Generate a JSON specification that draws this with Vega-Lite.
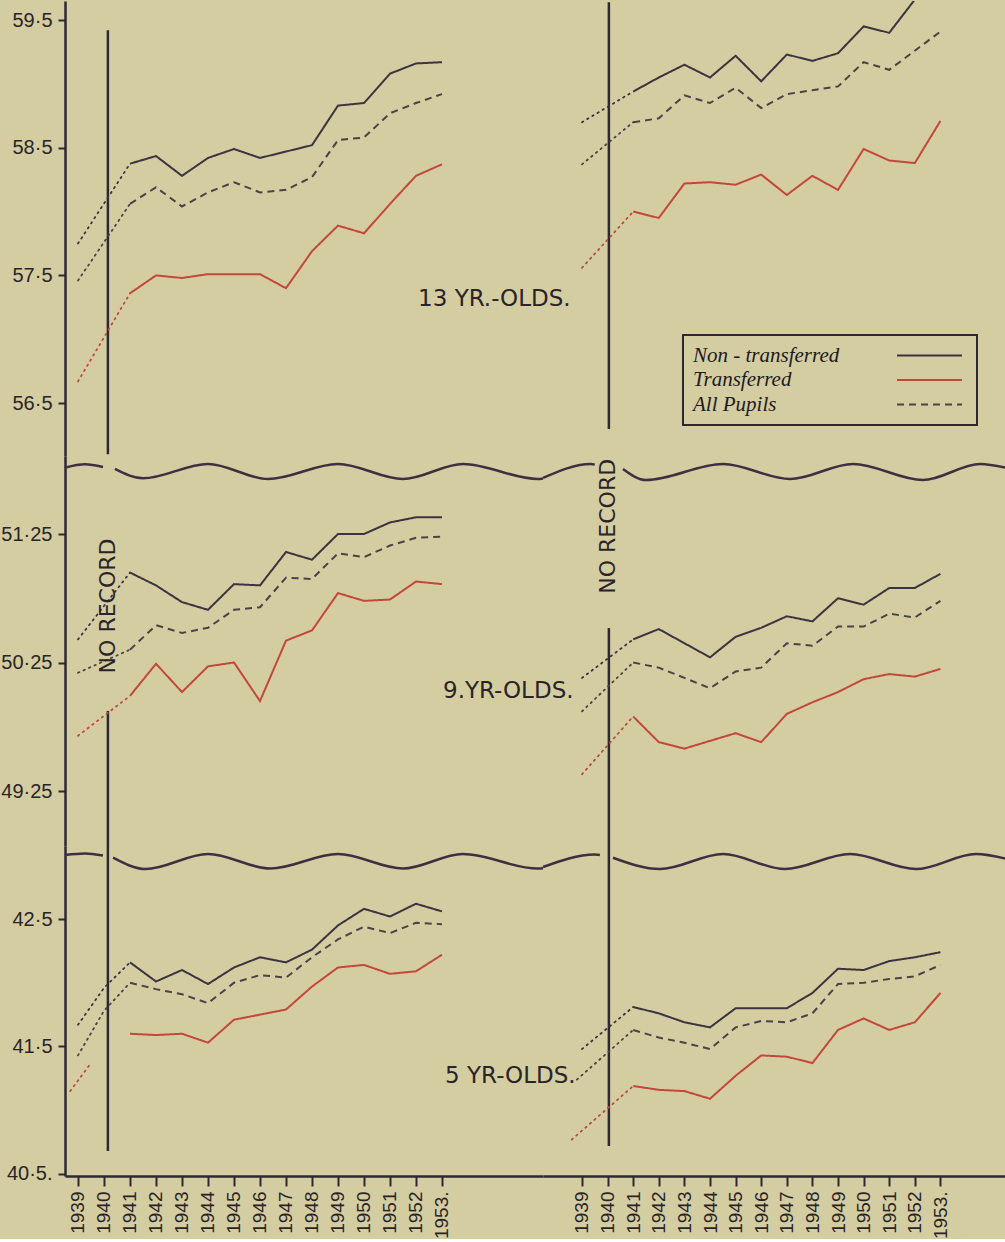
{
  "$schema": "https://vega.github.io/schema/vega-lite/v6.json",
  "background": "#d4cda2",
  "padding": 0,
  "autosize": {"type": "pad"},
  "bounds": "flush",
  "columns": 2,
  "spacing": 0,
  "resolve": {"scale": {"color": "shared", "strokeDash": "shared"}},
  "datasets": {
    "L13": [
      {"series":"Non - transferred","kind":"main","year":1941,"value":58.375},
      {"series":"Non - transferred","kind":"main","year":1942,"value":58.435},
      {"series":"Non - transferred","kind":"main","year":1943,"value":58.28},
      {"series":"Non - transferred","kind":"main","year":1944,"value":58.42},
      {"series":"Non - transferred","kind":"main","year":1945,"value":58.49},
      {"series":"Non - transferred","kind":"main","year":1946,"value":58.42},
      {"series":"Non - transferred","kind":"main","year":1947,"value":58.47},
      {"series":"Non - transferred","kind":"main","year":1948,"value":58.52},
      {"series":"Non - transferred","kind":"main","year":1949,"value":58.83},
      {"series":"Non - transferred","kind":"main","year":1950,"value":58.85},
      {"series":"Non - transferred","kind":"main","year":1951,"value":59.08},
      {"series":"Non - transferred","kind":"main","year":1952,"value":59.16},
      {"series":"Non - transferred","kind":"main","year":1953,"value":59.17},
      {"series":"Non - transferred","kind":"ext","year":1939,"value":57.75},
      {"series":"Non - transferred","kind":"ext","year":1941,"value":58.375},
      {"series":"All Pupils","kind":"main","year":1941,"value":58.06},
      {"series":"All Pupils","kind":"main","year":1942,"value":58.19},
      {"series":"All Pupils","kind":"main","year":1943,"value":58.04},
      {"series":"All Pupils","kind":"main","year":1944,"value":58.15},
      {"series":"All Pupils","kind":"main","year":1945,"value":58.23},
      {"series":"All Pupils","kind":"main","year":1946,"value":58.15},
      {"series":"All Pupils","kind":"main","year":1947,"value":58.17},
      {"series":"All Pupils","kind":"main","year":1948,"value":58.27},
      {"series":"All Pupils","kind":"main","year":1949,"value":58.56},
      {"series":"All Pupils","kind":"main","year":1950,"value":58.58},
      {"series":"All Pupils","kind":"main","year":1951,"value":58.77},
      {"series":"All Pupils","kind":"main","year":1952,"value":58.85},
      {"series":"All Pupils","kind":"main","year":1953,"value":58.92},
      {"series":"All Pupils","kind":"ext","year":1939,"value":57.46},
      {"series":"All Pupils","kind":"ext","year":1941,"value":58.06},
      {"series":"Transferred","kind":"main","year":1941,"value":57.36},
      {"series":"Transferred","kind":"main","year":1942,"value":57.5},
      {"series":"Transferred","kind":"main","year":1943,"value":57.48},
      {"series":"Transferred","kind":"main","year":1944,"value":57.51},
      {"series":"Transferred","kind":"main","year":1945,"value":57.51},
      {"series":"Transferred","kind":"main","year":1946,"value":57.51},
      {"series":"Transferred","kind":"main","year":1947,"value":57.4},
      {"series":"Transferred","kind":"main","year":1948,"value":57.69},
      {"series":"Transferred","kind":"main","year":1949,"value":57.89},
      {"series":"Transferred","kind":"main","year":1950,"value":57.83},
      {"series":"Transferred","kind":"main","year":1951,"value":58.06},
      {"series":"Transferred","kind":"main","year":1952,"value":58.28},
      {"series":"Transferred","kind":"main","year":1953,"value":58.37},
      {"series":"Transferred","kind":"ext","year":1939,"value":56.67},
      {"series":"Transferred","kind":"ext","year":1941,"value":57.36}
    ],
    "R13": [
      {"series":"Non - transferred","kind":"main","year":1941,"value":58.94},
      {"series":"Non - transferred","kind":"main","year":1942,"value":59.05},
      {"series":"Non - transferred","kind":"main","year":1943,"value":59.15},
      {"series":"Non - transferred","kind":"main","year":1944,"value":59.05},
      {"series":"Non - transferred","kind":"main","year":1945,"value":59.22},
      {"series":"Non - transferred","kind":"main","year":1946,"value":59.02},
      {"series":"Non - transferred","kind":"main","year":1947,"value":59.23},
      {"series":"Non - transferred","kind":"main","year":1948,"value":59.18},
      {"series":"Non - transferred","kind":"main","year":1949,"value":59.24},
      {"series":"Non - transferred","kind":"main","year":1950,"value":59.45},
      {"series":"Non - transferred","kind":"main","year":1951,"value":59.4},
      {"series":"Non - transferred","kind":"main","year":1952,"value":59.66},
      {"series":"Non - transferred","kind":"main","year":1953,"value":59.72},
      {"series":"Non - transferred","kind":"ext","year":1939,"value":58.7},
      {"series":"Non - transferred","kind":"ext","year":1941,"value":58.94},
      {"series":"All Pupils","kind":"main","year":1941,"value":58.7},
      {"series":"All Pupils","kind":"main","year":1942,"value":58.73},
      {"series":"All Pupils","kind":"main","year":1943,"value":58.91},
      {"series":"All Pupils","kind":"main","year":1944,"value":58.85},
      {"series":"All Pupils","kind":"main","year":1945,"value":58.97},
      {"series":"All Pupils","kind":"main","year":1946,"value":58.81},
      {"series":"All Pupils","kind":"main","year":1947,"value":58.92},
      {"series":"All Pupils","kind":"main","year":1948,"value":58.95},
      {"series":"All Pupils","kind":"main","year":1949,"value":58.98},
      {"series":"All Pupils","kind":"main","year":1950,"value":59.17},
      {"series":"All Pupils","kind":"main","year":1951,"value":59.11},
      {"series":"All Pupils","kind":"main","year":1952,"value":59.26},
      {"series":"All Pupils","kind":"main","year":1953,"value":59.41},
      {"series":"All Pupils","kind":"ext","year":1939,"value":58.37},
      {"series":"All Pupils","kind":"ext","year":1941,"value":58.7},
      {"series":"Transferred","kind":"main","year":1941,"value":58.0},
      {"series":"Transferred","kind":"main","year":1942,"value":57.95},
      {"series":"Transferred","kind":"main","year":1943,"value":58.22},
      {"series":"Transferred","kind":"main","year":1944,"value":58.23},
      {"series":"Transferred","kind":"main","year":1945,"value":58.21},
      {"series":"Transferred","kind":"main","year":1946,"value":58.29},
      {"series":"Transferred","kind":"main","year":1947,"value":58.13},
      {"series":"Transferred","kind":"main","year":1948,"value":58.28},
      {"series":"Transferred","kind":"main","year":1949,"value":58.17},
      {"series":"Transferred","kind":"main","year":1950,"value":58.49},
      {"series":"Transferred","kind":"main","year":1951,"value":58.4},
      {"series":"Transferred","kind":"main","year":1952,"value":58.38},
      {"series":"Transferred","kind":"main","year":1953,"value":58.71},
      {"series":"Transferred","kind":"ext","year":1939,"value":57.56},
      {"series":"Transferred","kind":"ext","year":1941,"value":58.0}
    ],
    "L9": [
      {"series":"Non - transferred","kind":"main","year":1941,"value":50.95},
      {"series":"Non - transferred","kind":"main","year":1942,"value":50.85},
      {"series":"Non - transferred","kind":"main","year":1943,"value":50.72},
      {"series":"Non - transferred","kind":"main","year":1944,"value":50.66},
      {"series":"Non - transferred","kind":"main","year":1945,"value":50.86},
      {"series":"Non - transferred","kind":"main","year":1946,"value":50.85},
      {"series":"Non - transferred","kind":"main","year":1947,"value":51.11},
      {"series":"Non - transferred","kind":"main","year":1948,"value":51.05},
      {"series":"Non - transferred","kind":"main","year":1949,"value":51.25},
      {"series":"Non - transferred","kind":"main","year":1950,"value":51.25},
      {"series":"Non - transferred","kind":"main","year":1951,"value":51.34},
      {"series":"Non - transferred","kind":"main","year":1952,"value":51.38},
      {"series":"Non - transferred","kind":"main","year":1953,"value":51.38},
      {"series":"Non - transferred","kind":"ext","year":1939,"value":50.43},
      {"series":"Non - transferred","kind":"ext","year":1941,"value":50.95},
      {"series":"All Pupils","kind":"main","year":1941,"value":50.35},
      {"series":"All Pupils","kind":"main","year":1942,"value":50.54},
      {"series":"All Pupils","kind":"main","year":1943,"value":50.48},
      {"series":"All Pupils","kind":"main","year":1944,"value":50.52},
      {"series":"All Pupils","kind":"main","year":1945,"value":50.66},
      {"series":"All Pupils","kind":"main","year":1946,"value":50.68},
      {"series":"All Pupils","kind":"main","year":1947,"value":50.91},
      {"series":"All Pupils","kind":"main","year":1948,"value":50.9},
      {"series":"All Pupils","kind":"main","year":1949,"value":51.1},
      {"series":"All Pupils","kind":"main","year":1950,"value":51.07},
      {"series":"All Pupils","kind":"main","year":1951,"value":51.16},
      {"series":"All Pupils","kind":"main","year":1952,"value":51.22},
      {"series":"All Pupils","kind":"main","year":1953,"value":51.23},
      {"series":"All Pupils","kind":"ext","year":1939,"value":50.17},
      {"series":"All Pupils","kind":"ext","year":1941,"value":50.35},
      {"series":"Transferred","kind":"main","year":1941,"value":49.99},
      {"series":"Transferred","kind":"main","year":1942,"value":50.24},
      {"series":"Transferred","kind":"main","year":1943,"value":50.02},
      {"series":"Transferred","kind":"main","year":1944,"value":50.22},
      {"series":"Transferred","kind":"main","year":1945,"value":50.25},
      {"series":"Transferred","kind":"main","year":1946,"value":49.95},
      {"series":"Transferred","kind":"main","year":1947,"value":50.42},
      {"series":"Transferred","kind":"main","year":1948,"value":50.5},
      {"series":"Transferred","kind":"main","year":1949,"value":50.79},
      {"series":"Transferred","kind":"main","year":1950,"value":50.73},
      {"series":"Transferred","kind":"main","year":1951,"value":50.74},
      {"series":"Transferred","kind":"main","year":1952,"value":50.88},
      {"series":"Transferred","kind":"main","year":1953,"value":50.86},
      {"series":"Transferred","kind":"ext","year":1939,"value":49.68},
      {"series":"Transferred","kind":"ext","year":1941,"value":49.99}
    ],
    "R9": [
      {"series":"Non - transferred","kind":"main","year":1941,"value":50.43},
      {"series":"Non - transferred","kind":"main","year":1942,"value":50.51},
      {"series":"Non - transferred","kind":"main","year":1943,"value":50.4},
      {"series":"Non - transferred","kind":"main","year":1944,"value":50.29},
      {"series":"Non - transferred","kind":"main","year":1945,"value":50.45},
      {"series":"Non - transferred","kind":"main","year":1946,"value":50.52},
      {"series":"Non - transferred","kind":"main","year":1947,"value":50.61},
      {"series":"Non - transferred","kind":"main","year":1948,"value":50.57},
      {"series":"Non - transferred","kind":"main","year":1949,"value":50.75},
      {"series":"Non - transferred","kind":"main","year":1950,"value":50.7},
      {"series":"Non - transferred","kind":"main","year":1951,"value":50.83},
      {"series":"Non - transferred","kind":"main","year":1952,"value":50.83},
      {"series":"Non - transferred","kind":"main","year":1953,"value":50.94},
      {"series":"Non - transferred","kind":"ext","year":1939,"value":50.13},
      {"series":"Non - transferred","kind":"ext","year":1941,"value":50.43},
      {"series":"All Pupils","kind":"main","year":1941,"value":50.25},
      {"series":"All Pupils","kind":"main","year":1942,"value":50.21},
      {"series":"All Pupils","kind":"main","year":1943,"value":50.13},
      {"series":"All Pupils","kind":"main","year":1944,"value":50.05},
      {"series":"All Pupils","kind":"main","year":1945,"value":50.18},
      {"series":"All Pupils","kind":"main","year":1946,"value":50.21},
      {"series":"All Pupils","kind":"main","year":1947,"value":50.4},
      {"series":"All Pupils","kind":"main","year":1948,"value":50.38},
      {"series":"All Pupils","kind":"main","year":1949,"value":50.53},
      {"series":"All Pupils","kind":"main","year":1950,"value":50.53},
      {"series":"All Pupils","kind":"main","year":1951,"value":50.63},
      {"series":"All Pupils","kind":"main","year":1952,"value":50.6},
      {"series":"All Pupils","kind":"main","year":1953,"value":50.73},
      {"series":"All Pupils","kind":"ext","year":1939,"value":49.87},
      {"series":"All Pupils","kind":"ext","year":1941,"value":50.25},
      {"series":"Transferred","kind":"main","year":1941,"value":49.83},
      {"series":"Transferred","kind":"main","year":1942,"value":49.63},
      {"series":"Transferred","kind":"main","year":1943,"value":49.58},
      {"series":"Transferred","kind":"main","year":1944,"value":49.64},
      {"series":"Transferred","kind":"main","year":1945,"value":49.7},
      {"series":"Transferred","kind":"main","year":1946,"value":49.63},
      {"series":"Transferred","kind":"main","year":1947,"value":49.85},
      {"series":"Transferred","kind":"main","year":1948,"value":49.94},
      {"series":"Transferred","kind":"main","year":1949,"value":50.02},
      {"series":"Transferred","kind":"main","year":1950,"value":50.12},
      {"series":"Transferred","kind":"main","year":1951,"value":50.16},
      {"series":"Transferred","kind":"main","year":1952,"value":50.14},
      {"series":"Transferred","kind":"main","year":1953,"value":50.2},
      {"series":"Transferred","kind":"ext","year":1939,"value":49.38},
      {"series":"Transferred","kind":"ext","year":1941,"value":49.83}
    ],
    "L5": [
      {"series":"Non - transferred","kind":"main","year":1941,"value":42.16},
      {"series":"Non - transferred","kind":"main","year":1942,"value":42.01},
      {"series":"Non - transferred","kind":"main","year":1943,"value":42.1},
      {"series":"Non - transferred","kind":"main","year":1944,"value":41.99},
      {"series":"Non - transferred","kind":"main","year":1945,"value":42.12},
      {"series":"Non - transferred","kind":"main","year":1946,"value":42.2},
      {"series":"Non - transferred","kind":"main","year":1947,"value":42.16},
      {"series":"Non - transferred","kind":"main","year":1948,"value":42.26},
      {"series":"Non - transferred","kind":"main","year":1949,"value":42.45},
      {"series":"Non - transferred","kind":"main","year":1950,"value":42.58},
      {"series":"Non - transferred","kind":"main","year":1951,"value":42.52},
      {"series":"Non - transferred","kind":"main","year":1952,"value":42.62},
      {"series":"Non - transferred","kind":"main","year":1953,"value":42.56},
      {"series":"Non - transferred","kind":"ext","year":1939,"value":41.67},
      {"series":"Non - transferred","kind":"ext","year":1940,"value":41.96},
      {"series":"Non - transferred","kind":"ext","year":1941,"value":42.16},
      {"series":"All Pupils","kind":"main","year":1941,"value":42.0},
      {"series":"All Pupils","kind":"main","year":1942,"value":41.95},
      {"series":"All Pupils","kind":"main","year":1943,"value":41.91},
      {"series":"All Pupils","kind":"main","year":1944,"value":41.84},
      {"series":"All Pupils","kind":"main","year":1945,"value":42.0},
      {"series":"All Pupils","kind":"main","year":1946,"value":42.06},
      {"series":"All Pupils","kind":"main","year":1947,"value":42.04},
      {"series":"All Pupils","kind":"main","year":1948,"value":42.2},
      {"series":"All Pupils","kind":"main","year":1949,"value":42.34},
      {"series":"All Pupils","kind":"main","year":1950,"value":42.44},
      {"series":"All Pupils","kind":"main","year":1951,"value":42.39},
      {"series":"All Pupils","kind":"main","year":1952,"value":42.47},
      {"series":"All Pupils","kind":"main","year":1953,"value":42.46},
      {"series":"All Pupils","kind":"ext","year":1939,"value":41.43},
      {"series":"All Pupils","kind":"ext","year":1940,"value":41.78},
      {"series":"All Pupils","kind":"ext","year":1941,"value":42.0},
      {"series":"Transferred","kind":"main","year":1941,"value":41.6},
      {"series":"Transferred","kind":"main","year":1942,"value":41.59},
      {"series":"Transferred","kind":"main","year":1943,"value":41.6},
      {"series":"Transferred","kind":"main","year":1944,"value":41.53},
      {"series":"Transferred","kind":"main","year":1945,"value":41.71},
      {"series":"Transferred","kind":"main","year":1946,"value":41.75},
      {"series":"Transferred","kind":"main","year":1947,"value":41.79},
      {"series":"Transferred","kind":"main","year":1948,"value":41.97},
      {"series":"Transferred","kind":"main","year":1949,"value":42.12},
      {"series":"Transferred","kind":"main","year":1950,"value":42.14},
      {"series":"Transferred","kind":"main","year":1951,"value":42.07},
      {"series":"Transferred","kind":"main","year":1952,"value":42.09},
      {"series":"Transferred","kind":"main","year":1953,"value":42.22},
      {"series":"Transferred","kind":"ext","year":1938.7,"value":41.15},
      {"series":"Transferred","kind":"ext","year":1939.5,"value":41.37}
    ],
    "R5": [
      {"series":"Non - transferred","kind":"main","year":1941,"value":41.81},
      {"series":"Non - transferred","kind":"main","year":1942,"value":41.76},
      {"series":"Non - transferred","kind":"main","year":1943,"value":41.69},
      {"series":"Non - transferred","kind":"main","year":1944,"value":41.65},
      {"series":"Non - transferred","kind":"main","year":1945,"value":41.8},
      {"series":"Non - transferred","kind":"main","year":1946,"value":41.8},
      {"series":"Non - transferred","kind":"main","year":1947,"value":41.8},
      {"series":"Non - transferred","kind":"main","year":1948,"value":41.92},
      {"series":"Non - transferred","kind":"main","year":1949,"value":42.11},
      {"series":"Non - transferred","kind":"main","year":1950,"value":42.1},
      {"series":"Non - transferred","kind":"main","year":1951,"value":42.17},
      {"series":"Non - transferred","kind":"main","year":1952,"value":42.2},
      {"series":"Non - transferred","kind":"main","year":1953,"value":42.24},
      {"series":"Non - transferred","kind":"ext","year":1939,"value":41.48},
      {"series":"Non - transferred","kind":"ext","year":1941,"value":41.81},
      {"series":"All Pupils","kind":"main","year":1941,"value":41.63},
      {"series":"All Pupils","kind":"main","year":1942,"value":41.57},
      {"series":"All Pupils","kind":"main","year":1943,"value":41.53},
      {"series":"All Pupils","kind":"main","year":1944,"value":41.48},
      {"series":"All Pupils","kind":"main","year":1945,"value":41.65},
      {"series":"All Pupils","kind":"main","year":1946,"value":41.7},
      {"series":"All Pupils","kind":"main","year":1947,"value":41.69},
      {"series":"All Pupils","kind":"main","year":1948,"value":41.76},
      {"series":"All Pupils","kind":"main","year":1949,"value":41.99},
      {"series":"All Pupils","kind":"main","year":1950,"value":42.0},
      {"series":"All Pupils","kind":"main","year":1951,"value":42.03},
      {"series":"All Pupils","kind":"main","year":1952,"value":42.05},
      {"series":"All Pupils","kind":"main","year":1953,"value":42.14},
      {"series":"All Pupils","kind":"ext","year":1938.8,"value":41.24},
      {"series":"All Pupils","kind":"ext","year":1941,"value":41.63},
      {"series":"Transferred","kind":"main","year":1941,"value":41.19},
      {"series":"Transferred","kind":"main","year":1942,"value":41.16},
      {"series":"Transferred","kind":"main","year":1943,"value":41.15},
      {"series":"Transferred","kind":"main","year":1944,"value":41.09},
      {"series":"Transferred","kind":"main","year":1945,"value":41.27},
      {"series":"Transferred","kind":"main","year":1946,"value":41.43},
      {"series":"Transferred","kind":"main","year":1947,"value":41.42},
      {"series":"Transferred","kind":"main","year":1948,"value":41.37},
      {"series":"Transferred","kind":"main","year":1949,"value":41.63},
      {"series":"Transferred","kind":"main","year":1950,"value":41.72},
      {"series":"Transferred","kind":"main","year":1951,"value":41.63},
      {"series":"Transferred","kind":"main","year":1952,"value":41.69},
      {"series":"Transferred","kind":"main","year":1953,"value":41.92},
      {"series":"Transferred","kind":"ext","year":1938.6,"value":40.77},
      {"series":"Transferred","kind":"ext","year":1941,"value":41.19}
    ],
    "waves": [
      {"age":"9","panel":"L","seg":"a","year":1938.5,"value":51.766},
      {"age":"9","panel":"L","seg":"a","year":1939.27,"value":51.792},
      {"age":"9","panel":"L","seg":"a","year":1939.96,"value":51.771},
      {"age":"9","panel":"L","seg":"b","year":1940.42,"value":51.756},
      {"age":"9","panel":"L","seg":"b","year":1941.5,"value":51.683},
      {"age":"9","panel":"L","seg":"b","year":1944.0,"value":51.795},
      {"age":"9","panel":"L","seg":"b","year":1946.31,"value":51.678},
      {"age":"9","panel":"L","seg":"b","year":1949.0,"value":51.795},
      {"age":"9","panel":"L","seg":"b","year":1951.5,"value":51.678},
      {"age":"9","panel":"L","seg":"b","year":1953.81,"value":51.795},
      {"age":"9","panel":"L","seg":"b","year":1956.69,"value":51.678},
      {"age":"9","panel":"L","seg":"b","year":1956.885,"value":51.682},
      {"age":"9","panel":"R","seg":"a","year":1937.477,"value":51.686},
      {"age":"9","panel":"R","seg":"a","year":1939.35,"value":51.795},
      {"age":"9","panel":"R","seg":"a","year":1939.5,"value":51.79},
      {"age":"9","panel":"R","seg":"b","year":1940.6,"value":51.756},
      {"age":"9","panel":"R","seg":"b","year":1941.5,"value":51.67},
      {"age":"9","panel":"R","seg":"b","year":1944.51,"value":51.795},
      {"age":"9","panel":"R","seg":"b","year":1947.125,"value":51.678},
      {"age":"9","panel":"R","seg":"b","year":1949.586,"value":51.795},
      {"age":"9","panel":"R","seg":"b","year":1952.32,"value":51.67},
      {"age":"9","panel":"R","seg":"b","year":1954.55,"value":51.795},
      {"age":"9","panel":"R","seg":"b","year":1955.6,"value":51.764},
      {"age":"5","panel":"L","seg":"a","year":1938.5,"value":43.002},
      {"age":"5","panel":"L","seg":"a","year":1939.27,"value":43.014},
      {"age":"5","panel":"L","seg":"a","year":1939.96,"value":42.998},
      {"age":"5","panel":"L","seg":"b","year":1940.35,"value":42.981},
      {"age":"5","panel":"L","seg":"b","year":1941.6,"value":42.892},
      {"age":"5","panel":"L","seg":"b","year":1944.0,"value":43.01},
      {"age":"5","panel":"L","seg":"b","year":1946.4,"value":42.896},
      {"age":"5","panel":"L","seg":"b","year":1949.0,"value":43.01},
      {"age":"5","panel":"L","seg":"b","year":1951.5,"value":42.896},
      {"age":"5","panel":"L","seg":"b","year":1953.8,"value":43.01},
      {"age":"5","panel":"L","seg":"b","year":1956.69,"value":42.896},
      {"age":"5","panel":"L","seg":"b","year":1956.885,"value":42.898},
      {"age":"5","panel":"R","seg":"a","year":1937.477,"value":42.908},
      {"age":"5","panel":"R","seg":"a","year":1939.5,"value":43.006},
      {"age":"5","panel":"R","seg":"a","year":1939.7,"value":43.002},
      {"age":"5","panel":"R","seg":"b","year":1940.21,"value":42.981},
      {"age":"5","panel":"R","seg":"b","year":1942.05,"value":42.892},
      {"age":"5","panel":"R","seg":"b","year":1944.51,"value":43.01},
      {"age":"5","panel":"R","seg":"b","year":1946.93,"value":42.892},
      {"age":"5","panel":"R","seg":"b","year":1949.47,"value":43.01},
      {"age":"5","panel":"R","seg":"b","year":1952.05,"value":42.892},
      {"age":"5","panel":"R","seg":"b","year":1954.39,"value":43.01},
      {"age":"5","panel":"R","seg":"b","year":1955.6,"value":42.971}
    ],
    "norecord": [
      {"age":"13","panel":"L","year":1940.15,"value":59.42,"value2":56.1},
      {"age":"9","panel":"L","year":1940.15,"value":49.873,"value2":48.822},
      {"age":"5","panel":"L","year":1940.15,"value":43.073,"value2":40.68},
      {"age":"13","panel":"R","year":1940.05,"value":59.64,"value2":56.297},
      {"age":"9","panel":"R","year":1940.05,"value":50.518,"value2":48.822},
      {"age":"5","panel":"R","year":1940.05,"value":43.073,"value2":40.72}
    ],
    "labels": [
      {"age":"13","panel":"L","kind":"section","text":"13 YR.-OLDS.","year":1952.08,"value":57.315},
      {"age":"9","panel":"L","kind":"section","text":"9.YR-OLDS.","year":1953.04,"value":50.028},
      {"age":"5","panel":"L","kind":"section","text":"5 YR-OLDS.","year":1953.12,"value":41.27},
      {"age":"9","panel":"L","kind":"norecord","text":"NO RECORD","year":1940.15,"value":50.69},
      {"age":"9","panel":"R","kind":"norecord","text":"NO RECORD","year":1940.0,"value":51.31}
    ]
  },
  "concat": [
    {
      "width": 478, "height": 455,
      "encoding": {
        "x": {"field":"year","type":"quantitative","scale":{"domain":[1938.5,1956.885],"nice":false,"zero":false},"axis":null},
        "y": {"field":"value","type":"quantitative","scale":{"domain":[56.086,59.649],"nice":false,"zero":false},
              "axis":{"values":[56.5,57.5,58.5,59.5],"title":null,"labelExpr":"replace(format(datum.value,'.1f'),'.','·')"}}
      },
      "layer": [
        {"data":{"name":"norecord"},"transform":[{"filter":"datum.age=='13' && datum.panel=='L'"}],"mark":{"type":"rule","color":"#2e2830","strokeWidth":2.5},"encoding":{"y2":{"field":"value2"}}},
        {"data":{"name":"L13"},"transform":[{"filter":"datum.kind=='ext'"}],"mark":{"type":"line","strokeWidth":1.8,"strokeDash":[1.5,4.5],"strokeCap":"round","clip":true},
         "encoding":{"color":{"field":"series","type":"nominal","title":null,"scale":{"domain":["Non - transferred","Transferred","All Pupils"],"range":["#3b3340","#c4473b","#4a4247"]}}}},
        {"data":{"name":"L13"},"transform":[{"filter":"datum.kind=='main'"}],"mark":{"type":"line","strokeWidth":2,"clip":true},
         "encoding":{"color":{"field":"series","type":"nominal","title":null,"scale":{"domain":["Non - transferred","Transferred","All Pupils"],"range":["#3b3340","#c4473b","#4a4247"]}},
                     "strokeDash":{"field":"series","type":"nominal","title":null,"scale":{"domain":["Non - transferred","Transferred","All Pupils"],"range":[[1,0],[1,0],[7,5]]}}}},
        {"data":{"name":"labels"},"transform":[{"filter":"datum.age=='13' && datum.panel=='L'"}],"mark":{"type":"text","align":"left","baseline":"middle","font":"DejaVu Sans","fontSize":23,"color":"#2a2428"},"encoding":{"text":{"field":"text"}}}
      ]
    },
    {
      "width": 464, "height": 455,
      "encoding": {
        "x": {"field":"year","type":"quantitative","scale":{"domain":[1937.477,1955.6],"nice":false,"zero":false},"axis":null},
        "y": {"field":"value","type":"quantitative","scale":{"domain":[56.086,59.649],"nice":false,"zero":false},"axis":null}
      },
      "layer": [
        {"data":{"name":"norecord"},"transform":[{"filter":"datum.age=='13' && datum.panel=='R'"}],"mark":{"type":"rule","color":"#2e2830","strokeWidth":2.5},"encoding":{"y2":{"field":"value2"}}},
        {"data":{"name":"R13"},"transform":[{"filter":"datum.kind=='ext'"}],"mark":{"type":"line","strokeWidth":1.8,"strokeDash":[1.5,4.5],"strokeCap":"round","clip":true},
         "encoding":{"color":{"field":"series","type":"nominal","title":null,"scale":{"domain":["Non - transferred","Transferred","All Pupils"],"range":["#3b3340","#c4473b","#4a4247"]}}}},
        {"data":{"name":"R13"},"transform":[{"filter":"datum.kind=='main'"}],"mark":{"type":"line","strokeWidth":2,"clip":true},
         "encoding":{"color":{"field":"series","type":"nominal","title":null,"scale":{"domain":["Non - transferred","Transferred","All Pupils"],"range":["#3b3340","#c4473b","#4a4247"]}},
                     "strokeDash":{"field":"series","type":"nominal","title":null,"scale":{"domain":["Non - transferred","Transferred","All Pupils"],"range":[[1,0],[1,0],[7,5]]}}}}
      ]
    },
    {
      "width": 478, "height": 390,
      "encoding": {
        "x": {"field":"year","type":"quantitative","scale":{"domain":[1938.5,1956.885],"nice":false,"zero":false},"axis":null},
        "y": {"field":"value","type":"quantitative","scale":{"domain":[48.822,51.857],"nice":false,"zero":false},
              "axis":{"values":[49.25,50.25,51.25],"title":null,"labelExpr":"replace(format(datum.value,'.2f'),'.','·')"}}
      },
      "layer": [
        {"data":{"name":"waves"},"transform":[{"filter":"datum.age=='9' && datum.panel=='L'"}],"mark":{"type":"line","interpolate":"monotone","color":"#3e3040","strokeWidth":2.5},"encoding":{"detail":{"field":"seg"}}},
        {"data":{"name":"norecord"},"transform":[{"filter":"datum.age=='9' && datum.panel=='L'"}],"mark":{"type":"rule","color":"#2e2830","strokeWidth":2.5},"encoding":{"y2":{"field":"value2"}}},
        {"data":{"name":"L9"},"transform":[{"filter":"datum.kind=='ext'"}],"mark":{"type":"line","strokeWidth":1.8,"strokeDash":[1.5,4.5],"strokeCap":"round","clip":true},
         "encoding":{"color":{"field":"series","type":"nominal","title":null,"scale":{"domain":["Non - transferred","Transferred","All Pupils"],"range":["#3b3340","#c4473b","#4a4247"]}}}},
        {"data":{"name":"L9"},"transform":[{"filter":"datum.kind=='main'"}],"mark":{"type":"line","strokeWidth":2,"clip":true},
         "encoding":{"color":{"field":"series","type":"nominal","title":null,"scale":{"domain":["Non - transferred","Transferred","All Pupils"],"range":["#3b3340","#c4473b","#4a4247"]}},
                     "strokeDash":{"field":"series","type":"nominal","title":null,"scale":{"domain":["Non - transferred","Transferred","All Pupils"],"range":[[1,0],[1,0],[7,5]]}}}},
        {"data":{"name":"labels"},"transform":[{"filter":"datum.age=='9' && datum.panel=='L' && datum.kind=='section'"}],"mark":{"type":"text","align":"left","baseline":"middle","font":"DejaVu Sans","fontSize":23,"color":"#2a2428"},"encoding":{"text":{"field":"text"}}},
        {"data":{"name":"labels"},"transform":[{"filter":"datum.age=='9' && datum.panel=='L' && datum.kind=='norecord'"}],"mark":{"type":"text","angle":270,"align":"center","baseline":"middle","font":"DejaVu Sans","fontSize":22,"color":"#2a2428"},"encoding":{"text":{"field":"text"}}}
      ]
    },
    {
      "width": 464, "height": 390,
      "encoding": {
        "x": {"field":"year","type":"quantitative","scale":{"domain":[1937.477,1955.6],"nice":false,"zero":false},"axis":null},
        "y": {"field":"value","type":"quantitative","scale":{"domain":[48.822,51.857],"nice":false,"zero":false},"axis":null}
      },
      "layer": [
        {"data":{"name":"waves"},"transform":[{"filter":"datum.age=='9' && datum.panel=='R'"}],"mark":{"type":"line","interpolate":"monotone","color":"#3e3040","strokeWidth":2.5},"encoding":{"detail":{"field":"seg"}}},
        {"data":{"name":"norecord"},"transform":[{"filter":"datum.age=='9' && datum.panel=='R'"}],"mark":{"type":"rule","color":"#2e2830","strokeWidth":2.5},"encoding":{"y2":{"field":"value2"}}},
        {"data":{"name":"R9"},"transform":[{"filter":"datum.kind=='ext'"}],"mark":{"type":"line","strokeWidth":1.8,"strokeDash":[1.5,4.5],"strokeCap":"round","clip":true},
         "encoding":{"color":{"field":"series","type":"nominal","title":null,"scale":{"domain":["Non - transferred","Transferred","All Pupils"],"range":["#3b3340","#c4473b","#4a4247"]}}}},
        {"data":{"name":"R9"},"transform":[{"filter":"datum.kind=='main'"}],"mark":{"type":"line","strokeWidth":2,"clip":true},
         "encoding":{"color":{"field":"series","type":"nominal","title":null,"scale":{"domain":["Non - transferred","Transferred","All Pupils"],"range":["#3b3340","#c4473b","#4a4247"]}},
                     "strokeDash":{"field":"series","type":"nominal","title":null,"scale":{"domain":["Non - transferred","Transferred","All Pupils"],"range":[[1,0],[1,0],[7,5]]}}}},
        {"data":{"name":"labels"},"transform":[{"filter":"datum.age=='9' && datum.panel=='R' && datum.kind=='norecord'"}],"mark":{"type":"text","angle":270,"align":"center","baseline":"middle","font":"DejaVu Sans","fontSize":22,"color":"#2a2428"},"encoding":{"text":{"field":"text"}}}
      ]
    },
    {
      "width": 478, "height": 330,
      "encoding": {
        "x": {"field":"year","type":"quantitative","scale":{"domain":[1938.5,1956.885],"nice":false,"zero":false},
              "axis":{"values":[1939,1940,1941,1942,1943,1944,1945,1946,1947,1948,1949,1950,1951,1952,1953],"title":null,"labelAngle":270,"tickSize":10,"labelPadding":5,"labelFontSize":19,"labelFlush":false,"labelOverlap":false,"labelExpr":"datum.value==1953 ? '1953.' : format(datum.value,'d')"}},
        "y": {"field":"value","type":"quantitative","scale":{"domain":[40.484,43.073],"nice":false,"zero":false},
              "axis":{"values":[40.5,41.5,42.5],"title":null,"labelExpr":"datum.value==40.5 ? '40·5.' : replace(format(datum.value,'.1f'),'.','·')"}}
      },
      "layer": [
        {"data":{"name":"waves"},"transform":[{"filter":"datum.age=='5' && datum.panel=='L'"}],"mark":{"type":"line","interpolate":"monotone","color":"#3e3040","strokeWidth":2.5},"encoding":{"detail":{"field":"seg"}}},
        {"data":{"name":"norecord"},"transform":[{"filter":"datum.age=='5' && datum.panel=='L'"}],"mark":{"type":"rule","color":"#2e2830","strokeWidth":2.5},"encoding":{"y2":{"field":"value2"}}},
        {"data":{"name":"L5"},"transform":[{"filter":"datum.kind=='ext'"}],"mark":{"type":"line","strokeWidth":1.8,"strokeDash":[1.5,4.5],"strokeCap":"round","clip":true},
         "encoding":{"color":{"field":"series","type":"nominal","title":null,"scale":{"domain":["Non - transferred","Transferred","All Pupils"],"range":["#3b3340","#c4473b","#4a4247"]}}}},
        {"data":{"name":"L5"},"transform":[{"filter":"datum.kind=='main'"}],"mark":{"type":"line","strokeWidth":2,"clip":true},
         "encoding":{"color":{"field":"series","type":"nominal","title":null,"scale":{"domain":["Non - transferred","Transferred","All Pupils"],"range":["#3b3340","#c4473b","#4a4247"]}},
                     "strokeDash":{"field":"series","type":"nominal","title":null,"scale":{"domain":["Non - transferred","Transferred","All Pupils"],"range":[[1,0],[1,0],[7,5]]}}}},
        {"data":{"name":"labels"},"transform":[{"filter":"datum.age=='5' && datum.panel=='L'"}],"mark":{"type":"text","align":"left","baseline":"middle","font":"DejaVu Sans","fontSize":23,"color":"#2a2428"},"encoding":{"text":{"field":"text"}}}
      ]
    },
    {
      "width": 464, "height": 330,
      "encoding": {
        "x": {"field":"year","type":"quantitative","scale":{"domain":[1937.477,1955.6],"nice":false,"zero":false},
              "axis":{"values":[1939,1940,1941,1942,1943,1944,1945,1946,1947,1948,1949,1950,1951,1952,1953],"title":null,"labelAngle":270,"tickSize":10,"labelPadding":5,"labelFontSize":19,"labelFlush":false,"labelOverlap":false,"labelExpr":"datum.value==1953 ? '1953.' : format(datum.value,'d')"}},
        "y": {"field":"value","type":"quantitative","scale":{"domain":[40.484,43.073],"nice":false,"zero":false},"axis":null}
      },
      "layer": [
        {"data":{"name":"waves"},"transform":[{"filter":"datum.age=='5' && datum.panel=='R'"}],"mark":{"type":"line","interpolate":"monotone","color":"#3e3040","strokeWidth":2.5},"encoding":{"detail":{"field":"seg"}}},
        {"data":{"name":"norecord"},"transform":[{"filter":"datum.age=='5' && datum.panel=='R'"}],"mark":{"type":"rule","color":"#2e2830","strokeWidth":2.5},"encoding":{"y2":{"field":"value2"}}},
        {"data":{"name":"R5"},"transform":[{"filter":"datum.kind=='ext'"}],"mark":{"type":"line","strokeWidth":1.8,"strokeDash":[1.5,4.5],"strokeCap":"round","clip":true},
         "encoding":{"color":{"field":"series","type":"nominal","title":null,"scale":{"domain":["Non - transferred","Transferred","All Pupils"],"range":["#3b3340","#c4473b","#4a4247"]}}}},
        {"data":{"name":"R5"},"transform":[{"filter":"datum.kind=='main'"}],"mark":{"type":"line","strokeWidth":2,"clip":true},
         "encoding":{"color":{"field":"series","type":"nominal","title":null,"scale":{"domain":["Non - transferred","Transferred","All Pupils"],"range":["#3b3340","#c4473b","#4a4247"]}},
                     "strokeDash":{"field":"series","type":"nominal","title":null,"scale":{"domain":["Non - transferred","Transferred","All Pupils"],"range":[[1,0],[1,0],[7,5]]}}}}
      ]
    }
  ],
  "config": {
    "view": {"stroke": null},
    "axis": {"grid": false, "domainColor": "#2e2830", "domainWidth": 2.5, "tickColor": "#2e2830", "tickWidth": 2, "labelColor": "#2a2428", "labelFont": "Liberation Sans"},
    "axisY": {"tickSize": 7, "labelPadding": 6, "labelFontSize": 20},
    "legend": {
      "orient": "none", "legendX": 618, "legendY": 334,
      "symbolType": "M-5,0L5,0", "symbolSize": 169, "symbolStrokeWidth": 2.2, "symbolOffset": 226,
      "labelFont": "Liberation Serif", "labelFontStyle": "italic", "labelFontSize": 21, "labelColor": "#1e1a20",
      "labelOffset": -247, "labelAlign": "left", "labelLimit": 300, "rowPadding": 2.5, "padding": 10,
      "strokeColor": "#2e2830", "strokeWidth": 2, "fillColor": "#d4cda2"
    }
  }
}
